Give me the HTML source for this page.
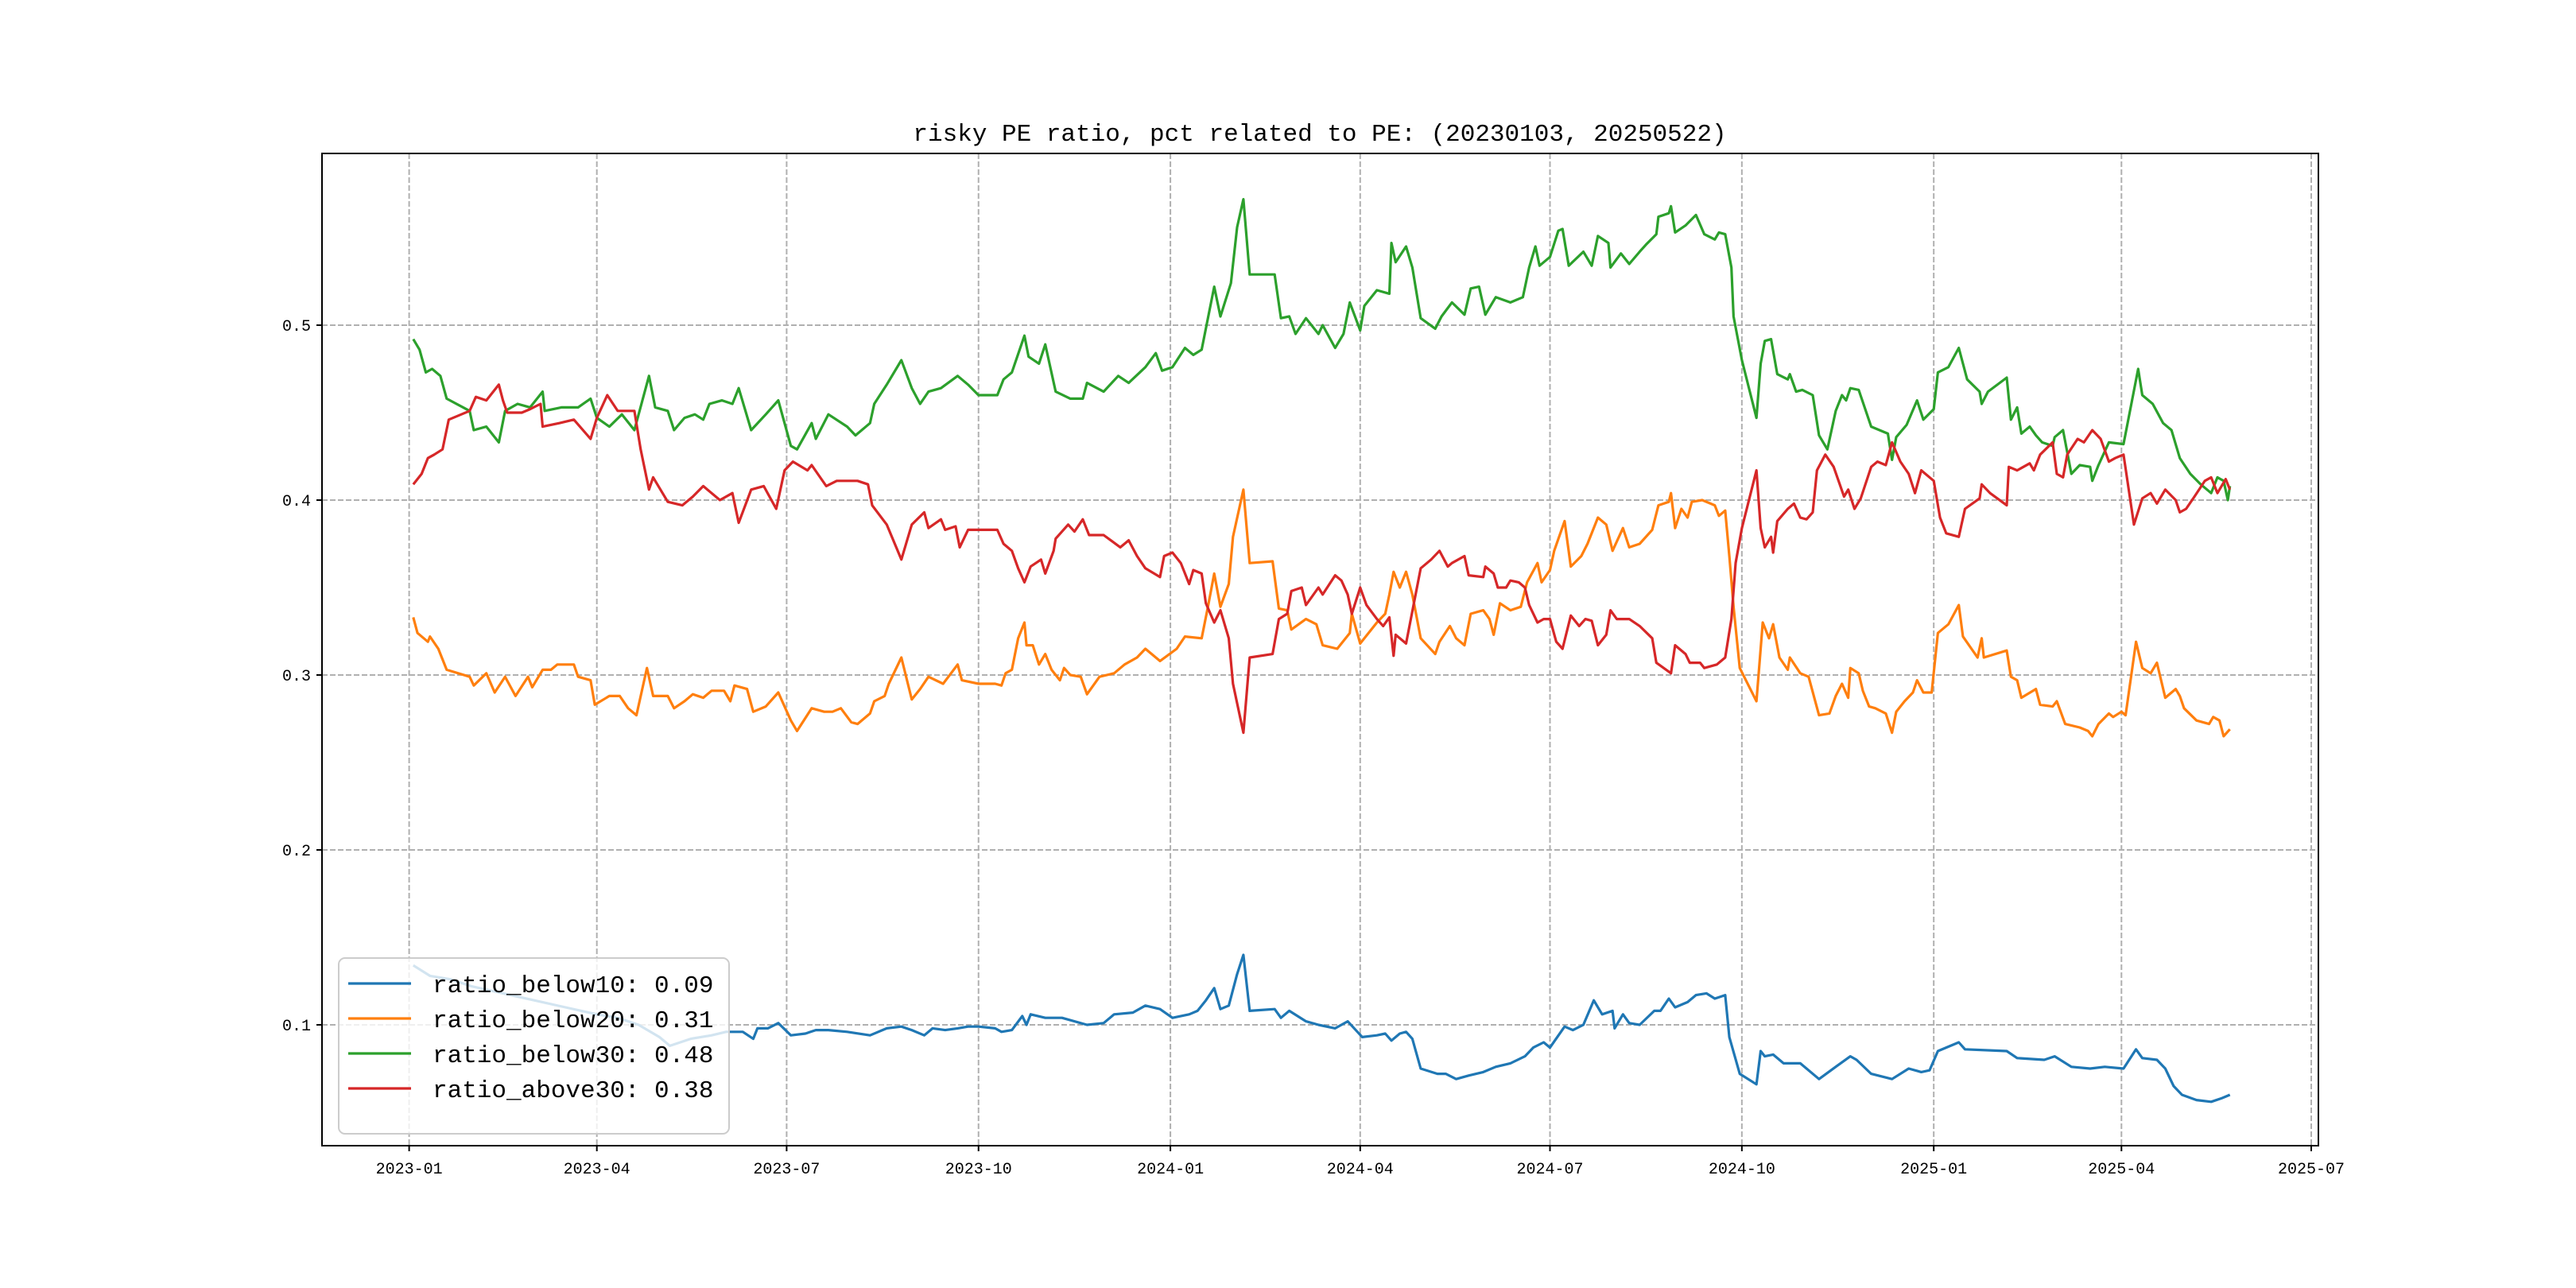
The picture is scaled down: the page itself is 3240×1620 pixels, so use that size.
<!DOCTYPE html>
<html><head><meta charset="utf-8">
<style>
html,body{margin:0;padding:0;background:#fff;}
svg{display:block;}
text{font-family:"Liberation Mono","Noto Sans CJK SC",monospace;fill:#000;}
</style></head>
<body>
<svg id="chart" width="3240" height="1620" viewBox="0 0 3240 1620">
<rect x="0" y="0" width="3240" height="1620" fill="#fff"/>
<text x="1660" y="177" font-size="31" text-anchor="middle">risky PE ratio, pct related to PE: (20230103, 20250522)</text>
<g id="grid"></g>
<g id="series"></g>
<rect x="405" y="193" width="2511" height="1248" fill="none" stroke="#000" stroke-width="2"/>
<g id="axes"></g>
<g id="legend"></g>
</svg>
<script>
// x values are days since 2023-01-01
const xTickLabels = ["2023-01","2023-04","2023-07","2023-10","2024-01","2024-04","2024-07","2024-10","2025-01","2025-04","2025-07"];
const xTickDays = [0,90,181,273,365,456,547,639,731,821,912];
const yTickValues = [0.1,0.2,0.3,0.4,0.5];
const seriesNames = ["ratio_below10: 0.09","ratio_below20: 0.31","ratio_below30: 0.48","ratio_above30: 0.38"];
const seriesColors = ["#1f77b4","#ff7f0e","#2ca02c","#d62728"];

const below10Days = [2,10,20,30,45,60,75,90,100,110,120,125,135,145,152,160,165,167,172,177,183,190,195,201,210,221,229,236,241,247,251,257,263,268,273,281,284,289,294,296,298,305,313,325,333,338,347,353,360,366,374,378,382,386,389,393,397,400,403,415,418,422,430,436,444,450,457,464,468,471,475,478,481,485,493,497,502,508,515,521,528,535,539,544,547,554,558,563,568,572,577,578,582,585,590,597,600,604,607,613,617,622,626,631,633,638,646,648,650,654,659,667,676,684,691,694,701,711,719,725,729,733,743,746,766,771,784,789,797,806,813,822,828,831,838,842,846,850,857,864,869,873];
const below10Vals = [0.134,0.128,0.126,0.122,0.118,0.114,0.110,0.106,0.104,0.100,0.093,0.088,0.092,0.094,0.096,0.096,0.092,0.098,0.098,0.101,0.094,0.095,0.097,0.097,0.096,0.094,0.098,0.099,0.097,0.094,0.098,0.097,0.098,0.099,0.099,0.098,0.096,0.097,0.105,0.100,0.106,0.104,0.104,0.100,0.101,0.106,0.107,0.111,0.109,0.104,0.106,0.108,0.114,0.121,0.109,0.111,0.129,0.140,0.108,0.109,0.104,0.108,0.102,0.100,0.098,0.102,0.093,0.094,0.095,0.091,0.095,0.096,0.092,0.075,0.072,0.072,0.069,0.071,0.073,0.076,0.078,0.082,0.087,0.090,0.087,0.099,0.097,0.100,0.114,0.106,0.108,0.098,0.106,0.101,0.100,0.108,0.108,0.115,0.110,0.113,0.117,0.118,0.115,0.117,0.093,0.072,0.066,0.085,0.082,0.083,0.078,0.078,0.069,0.076,0.082,0.080,0.072,0.069,0.075,0.073,0.074,0.085,0.090,0.086,0.085,0.081,0.080,0.082,0.076,0.075,0.076,0.075,0.086,0.081,0.080,0.075,0.065,0.060,0.057,0.056,0.058,0.060];

const below20Days = [2,4,9,10,14,18,29,31,37,41,46,51,57,59,64,68,71,79,81,87,89,96,101,105,109,114,117,124,127,132,136,141,145,151,154,156,162,165,171,177,183,186,193,199,203,207,212,215,221,223,228,230,236,241,245,249,256,263,265,273,281,284,286,289,292,295,296,299,302,305,308,312,314,317,322,325,331,338,343,349,353,360,368,372,380,383,386,389,393,395,400,403,414,417,421,423,430,435,438,445,451,452,456,464,468,470,472,475,478,481,485,492,494,499,502,506,509,515,518,520,523,528,533,536,541,543,547,549,554,557,562,565,570,574,577,582,585,590,596,599,604,605,607,610,613,615,620,626,628,631,633,635,638,646,648,649,652,654,657,661,662,667,671,676,681,684,687,690,691,695,697,700,703,708,711,713,717,721,723,726,730,733,738,743,745,752,754,755,766,768,771,773,780,782,788,790,794,801,805,807,810,815,817,821,823,828,831,835,838,842,847,849,851,857,863,865,868,870,873];
const below20Vals = [0.333,0.324,0.319,0.322,0.315,0.303,0.299,0.294,0.301,0.290,0.299,0.288,0.299,0.293,0.303,0.303,0.306,0.306,0.299,0.297,0.283,0.288,0.288,0.281,0.277,0.304,0.288,0.288,0.281,0.285,0.289,0.287,0.291,0.291,0.285,0.294,0.292,0.279,0.282,0.290,0.274,0.268,0.281,0.279,0.279,0.281,0.273,0.272,0.278,0.285,0.288,0.295,0.310,0.286,0.292,0.299,0.295,0.306,0.297,0.295,0.295,0.294,0.301,0.303,0.321,0.330,0.317,0.317,0.306,0.312,0.303,0.297,0.304,0.300,0.299,0.289,0.299,0.301,0.306,0.310,0.315,0.308,0.315,0.322,0.321,0.339,0.358,0.339,0.352,0.379,0.406,0.364,0.365,0.338,0.337,0.326,0.332,0.329,0.317,0.315,0.324,0.335,0.318,0.330,0.335,0.346,0.359,0.350,0.359,0.346,0.321,0.312,0.319,0.328,0.321,0.317,0.335,0.337,0.332,0.323,0.341,0.337,0.339,0.353,0.364,0.353,0.360,0.371,0.388,0.362,0.368,0.375,0.390,0.386,0.371,0.384,0.373,0.375,0.383,0.397,0.399,0.404,0.384,0.395,0.390,0.399,0.400,0.397,0.391,0.394,0.368,0.339,0.304,0.285,0.315,0.330,0.321,0.329,0.310,0.303,0.310,0.301,0.299,0.277,0.278,0.288,0.295,0.287,0.304,0.301,0.291,0.282,0.281,0.278,0.267,0.279,0.285,0.290,0.297,0.290,0.290,0.324,0.329,0.340,0.322,0.310,0.321,0.310,0.314,0.299,0.297,0.287,0.292,0.283,0.282,0.285,0.272,0.270,0.268,0.265,0.272,0.278,0.276,0.279,0.277,0.319,0.304,0.301,0.307,0.287,0.292,0.288,0.281,0.274,0.272,0.276,0.274,0.265,0.269];

const below30Days = [2,5,8,11,15,18,29,31,37,43,46,52,58,64,65,73,81,87,90,96,102,108,115,118,124,127,132,137,141,144,150,155,158,164,171,177,183,186,193,195,201,210,214,221,223,229,236,241,245,249,255,263,268,273,282,285,289,295,297,302,305,310,317,323,325,333,340,345,353,358,361,366,372,376,380,383,386,389,394,397,400,403,415,418,422,425,430,436,438,444,448,451,456,458,464,470,471,473,478,481,485,492,495,500,506,509,513,516,521,528,534,537,540,542,547,551,553,556,563,567,570,575,576,581,585,590,593,598,599,604,605,607,612,617,621,626,628,631,634,635,639,646,648,650,653,656,661,662,665,668,673,676,680,684,687,689,691,695,701,709,711,713,718,723,726,731,733,738,743,747,753,754,757,766,768,771,773,777,780,783,788,789,793,797,801,806,807,810,815,822,829,831,836,841,845,849,854,859,864,867,870,872,873];
const below30Vals = [0.492,0.486,0.473,0.475,0.471,0.458,0.451,0.440,0.442,0.433,0.451,0.455,0.453,0.462,0.451,0.453,0.453,0.458,0.447,0.442,0.449,0.440,0.471,0.453,0.451,0.440,0.447,0.449,0.446,0.455,0.457,0.455,0.464,0.440,0.449,0.457,0.431,0.429,0.444,0.435,0.449,0.442,0.437,0.444,0.455,0.466,0.480,0.464,0.455,0.462,0.464,0.471,0.466,0.460,0.460,0.469,0.473,0.494,0.482,0.478,0.489,0.462,0.458,0.458,0.467,0.462,0.471,0.467,0.476,0.484,0.474,0.476,0.487,0.483,0.486,0.504,0.522,0.505,0.524,0.556,0.572,0.529,0.529,0.504,0.505,0.495,0.504,0.495,0.500,0.487,0.495,0.513,0.497,0.511,0.520,0.518,0.547,0.536,0.545,0.533,0.504,0.498,0.505,0.513,0.506,0.521,0.522,0.506,0.516,0.513,0.516,0.533,0.545,0.534,0.539,0.554,0.555,0.534,0.542,0.534,0.551,0.547,0.533,0.541,0.535,0.542,0.546,0.552,0.562,0.564,0.568,0.553,0.557,0.563,0.552,0.549,0.553,0.552,0.533,0.505,0.480,0.447,0.478,0.491,0.492,0.472,0.469,0.472,0.462,0.463,0.460,0.437,0.429,0.451,0.460,0.457,0.464,0.463,0.442,0.438,0.423,0.436,0.443,0.457,0.446,0.452,0.473,0.476,0.487,0.469,0.462,0.455,0.462,0.470,0.446,0.453,0.438,0.442,0.437,0.433,0.431,0.436,0.440,0.415,0.420,0.419,0.411,0.420,0.433,0.432,0.475,0.460,0.455,0.444,0.440,0.424,0.415,0.409,0.404,0.413,0.411,0.400,0.408];

const above30Days = [2,6,9,12,16,19,29,32,37,43,45,47,54,58,63,64,72,79,87,90,95,100,108,111,115,117,124,131,136,141,149,155,158,164,170,176,180,184,191,193,200,205,211,215,220,222,229,236,241,247,249,255,257,262,264,268,273,282,285,289,292,295,298,303,305,309,310,316,319,323,326,333,341,345,349,353,360,362,366,370,374,376,380,382,386,389,393,395,400,403,414,417,421,423,428,430,436,438,444,447,450,452,456,459,464,467,470,472,473,478,485,490,494,498,500,506,508,515,516,520,522,526,528,532,535,537,541,544,547,550,553,557,561,564,567,570,574,576,579,585,590,596,598,605,607,612,614,619,621,627,631,634,636,639,646,648,650,653,654,656,661,664,667,670,673,675,679,683,688,690,693,696,701,704,708,711,715,719,722,725,731,734,737,743,746,753,754,758,766,767,771,777,779,782,788,790,793,795,800,803,807,811,815,818,822,827,831,835,838,842,847,849,852,856,861,864,867,871,873];
const above30Vals = [0.409,0.415,0.424,0.426,0.429,0.446,0.451,0.459,0.457,0.466,0.457,0.450,0.450,0.452,0.455,0.442,0.444,0.446,0.435,0.447,0.460,0.451,0.451,0.429,0.406,0.413,0.399,0.397,0.402,0.408,0.400,0.404,0.387,0.406,0.408,0.395,0.417,0.422,0.417,0.420,0.408,0.411,0.411,0.411,0.409,0.397,0.386,0.366,0.386,0.393,0.384,0.389,0.383,0.385,0.373,0.383,0.383,0.383,0.375,0.371,0.361,0.353,0.362,0.366,0.358,0.371,0.378,0.386,0.382,0.389,0.380,0.380,0.373,0.377,0.368,0.361,0.356,0.368,0.370,0.364,0.352,0.360,0.358,0.341,0.330,0.337,0.321,0.295,0.267,0.310,0.312,0.332,0.335,0.348,0.350,0.340,0.350,0.346,0.357,0.354,0.346,0.335,0.350,0.340,0.332,0.328,0.333,0.311,0.323,0.318,0.361,0.366,0.371,0.362,0.364,0.368,0.357,0.356,0.362,0.358,0.350,0.350,0.354,0.353,0.350,0.340,0.330,0.332,0.332,0.319,0.315,0.334,0.328,0.332,0.331,0.317,0.323,0.337,0.332,0.332,0.328,0.321,0.307,0.301,0.317,0.312,0.307,0.307,0.304,0.306,0.310,0.332,0.364,0.384,0.417,0.384,0.373,0.379,0.370,0.388,0.395,0.398,0.390,0.389,0.393,0.417,0.426,0.419,0.402,0.406,0.395,0.401,0.419,0.422,0.420,0.433,0.422,0.415,0.404,0.417,0.411,0.390,0.381,0.379,0.395,0.401,0.409,0.404,0.397,0.419,0.417,0.421,0.417,0.426,0.433,0.415,0.413,0.426,0.435,0.433,0.440,0.435,0.422,0.424,0.426,0.386,0.401,0.404,0.398,0.406,0.400,0.393,0.395,0.402,0.411,0.413,0.404,0.412,0.406];

const NS = "http://www.w3.org/2000/svg";
const PL = 405, PR = 2916, PT = 193, PB = 1441;
function xScale(day){ return 514.6 + day * (2907 - 514.6) / 912; }
function yScale(v){ return 1289 - (v - 0.1) * 2200; }
function mk(tag, attrs, parent){
  const el = document.createElementNS(NS, tag);
  for (const k in attrs) el.setAttribute(k, attrs[k]);
  parent.appendChild(el);
  return el;
}
const grid = document.getElementById('grid');
const axes = document.getElementById('axes');
const seriesG = document.getElementById('series');
const legend = document.getElementById('legend');

xTickDays.forEach((d, i) => {
  const x = xScale(d);
  const gl = mk('line', {x1:x, x2:x, y1:PT, y2:PB, stroke:'#b0b0b0', 'stroke-width':2, 'stroke-dasharray':'7,3'}, grid);
  
  
  const tk = mk('line', {x1:x, x2:x, y1:PB, y2:PB + 7, stroke:'#000', 'stroke-width':2}, axes);
  
  
  const t = mk('text', {x:x, y:PB + 35, 'font-size':20, 'text-anchor':'middle'}, axes);
  t.textContent = xTickLabels[i];
  
  
});
yTickValues.forEach(v => {
  const y = yScale(v);
  const gl = mk('line', {x1:PL, x2:PR, y1:y, y2:y, stroke:'#b0b0b0', 'stroke-width':2, 'stroke-dasharray':'7,3'}, grid);
  
  
  const tk = mk('line', {x1:PL - 7, x2:PL, y1:y, y2:y, stroke:'#000', 'stroke-width':2}, axes);
  
  
  const t = mk('text', {x:PL - 14, y:y + 7, 'font-size':20, 'text-anchor':'end'}, axes);
  t.textContent = v.toFixed(1);
  
  
});

const allDays = [below10Days, below20Days, below30Days, above30Days];
const allVals = [below10Vals, below20Vals, below30Vals, above30Vals];
const lineNames = ['line-ratio-below10','line-ratio-below20','line-ratio-below30','line-ratio-above30'];
allDays.forEach((days, s) => {
  const vals = allVals[s];
  const n = Math.min(days.length, vals.length);
  let d = '';
  for (let i = 0; i < n; i++) d += (i ? 'L' : 'M') + xScale(days[i]).toFixed(1) + ',' + yScale(vals[i]).toFixed(1);
  const p = mk('path', {d:d, fill:'none', stroke:seriesColors[s], 'stroke-width':3.2, 'stroke-linejoin':'round'}, seriesG);
  
  
});

const lb = mk('rect', {x:426, y:1205, width:491, height:221, rx:8, fill:'#fff', 'fill-opacity':0.8, stroke:'#cccccc', 'stroke-width':2}, legend);


seriesNames.forEach((name, i) => {
  const cy = 1237 + i * 44;
  const ln = mk('line', {x1:438, x2:517, y1:cy, y2:cy, stroke:seriesColors[i], 'stroke-width':3.2}, legend);
  
  
  const t = mk('text', {x:544, y:cy + 11, 'font-size':31}, legend);
  t.textContent = name;
  
  
});
</script>
</body></html>
